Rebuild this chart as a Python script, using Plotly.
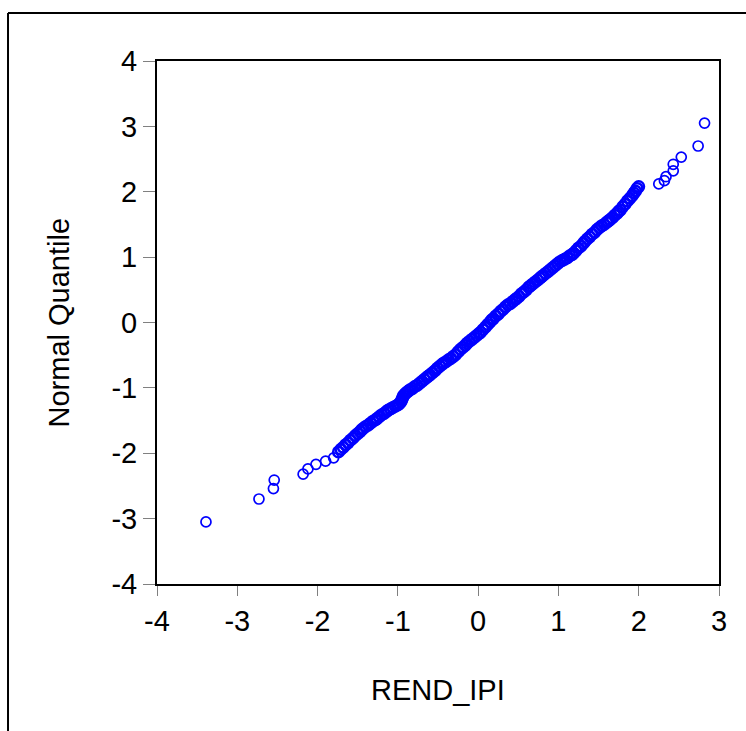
import plotly.graph_objects as go

# Isolated tail observations: sorted REND_IPI values (x) and normal quantiles (y)
tail_rend_ipi = [
    -3.39, -2.73, -2.55, -2.54, -2.18, -2.12, -2.02, -1.90, -1.80,
    2.25, 2.32, 2.34, 2.43, 2.43, 2.53, 2.74, 2.82,
]
tail_normal_quantile = [
    -3.05, -2.70, -2.54, -2.41, -2.32, -2.24, -2.17, -2.12, -2.07,
    2.12, 2.17, 2.23, 2.32, 2.42, 2.53, 2.70, 3.05,
]

# Dense central observations, read along the band
rend_ipi = [
    -1.74, -1.71, -1.68, -1.65, -1.62, -1.59,
    -1.56, -1.53, -1.50, -1.47, -1.45, -1.43,
    -1.40, -1.37, -1.34, -1.31, -1.28, -1.26,
    -1.23, -1.20, -1.17, -1.14, -1.12,
    -1.09, -1.06, -1.03, -1.00, -0.98,
    -0.96, -0.95, -0.94, -0.93, -0.91, -0.89,
    -0.87, -0.85, -0.82, -0.79, -0.76,
    -0.73, -0.70, -0.67, -0.64, -0.62, -0.60,
    -0.57, -0.54, -0.51, -0.48, -0.45, -0.43,
    -0.40, -0.37, -0.34, -0.31,
    -0.28, -0.25, -0.22, -0.19, -0.16, -0.14,
    -0.11, -0.08, -0.05, -0.02, 0.01, 0.03,
    0.06, 0.09, 0.12, 0.15, 0.17, 0.19,
    0.22, 0.25, 0.28, 0.31, 0.34,
    0.37, 0.40, 0.43, 0.46, 0.48,
    0.51, 0.54, 0.57, 0.60, 0.63, 0.65,
    0.68, 0.71, 0.74, 0.77, 0.79, 0.81,
    0.84, 0.87, 0.90, 0.93, 0.96, 0.99, 1.02,
    1.05, 1.08, 1.11, 1.14, 1.17, 1.19,
    1.22, 1.25, 1.28, 1.31, 1.33,
    1.36, 1.39, 1.42, 1.45, 1.48,
    1.51, 1.54, 1.57, 1.60, 1.62, 1.64,
    1.67, 1.70, 1.73, 1.75, 1.77,
    1.80, 1.83, 1.86, 1.89,
    1.92, 1.94, 1.96, 1.98, 2.00,
]
normal_quantile = [
    -1.98, -1.94, -1.91, -1.87, -1.84, -1.80,
    -1.77, -1.73, -1.70, -1.67, -1.64, -1.62,
    -1.59, -1.57, -1.54, -1.51, -1.49, -1.47,
    -1.44, -1.41, -1.39, -1.36, -1.34,
    -1.32, -1.30, -1.28, -1.26, -1.24,
    -1.21, -1.18, -1.15, -1.12, -1.09, -1.07,
    -1.05, -1.03, -1.01, -0.98, -0.96,
    -0.93, -0.90, -0.87, -0.84, -0.82, -0.80,
    -0.77, -0.74, -0.70, -0.67, -0.64, -0.62,
    -0.60, -0.57, -0.55, -0.52,
    -0.49, -0.45, -0.41, -0.38, -0.35, -0.32,
    -0.29, -0.26, -0.23, -0.20, -0.17, -0.15,
    -0.11, -0.07, -0.03, 0.01, 0.04, 0.06,
    0.10, 0.13, 0.17, 0.20, 0.24,
    0.27, 0.29, 0.32, 0.35, 0.37,
    0.40, 0.44, 0.47, 0.50, 0.54, 0.56,
    0.59, 0.62, 0.65, 0.68, 0.70, 0.72,
    0.75, 0.78, 0.81, 0.84, 0.87, 0.90, 0.93,
    0.95, 0.97, 0.99, 1.02, 1.04, 1.06,
    1.10, 1.14, 1.17, 1.21, 1.24,
    1.28, 1.31, 1.35, 1.38, 1.42,
    1.45, 1.48, 1.50, 1.53, 1.55, 1.57,
    1.60, 1.64, 1.67, 1.70, 1.72,
    1.77, 1.81, 1.86, 1.90,
    1.94, 1.98, 2.01, 2.05, 2.08,
]

x_ticks = [-4, -3, -2, -1, 0, 1, 2, 3]
y_ticks = [-4, -3, -2, -1, 0, 1, 2, 3, 4]
x_tick_labels = ["-4", "-3", "-2", "-1", "0", "1", "2", "3"]
y_tick_labels = ["-4", "-3", "-2", "-1", "0", "1", "2", "3", "4"]

FONT = "Liberation Sans, Arial, sans-serif"
BLUE = "#0000FF"

fig = go.Figure()
fig.add_trace(go.Scatter(
    x=rend_ipi, y=normal_quantile, mode="markers",
    marker=dict(symbol="circle-open", size=10.5, color=BLUE,
                line=dict(width=2.6, color=BLUE)),
    showlegend=False, cliponaxis=False,
))
fig.add_trace(go.Scatter(
    x=tail_rend_ipi, y=tail_normal_quantile, mode="markers",
    marker=dict(symbol="circle-open", size=10, color=BLUE,
                line=dict(width=1.7, color=BLUE)),
    showlegend=False, cliponaxis=False,
))

axis_common = dict(
    showline=True, mirror=True, linecolor="black", linewidth=2,
    showgrid=False, zeroline=False,
    ticks="outside", tickcolor="#808080", tickwidth=1,
    tickfont=dict(family=FONT, size=29, color="black"),
)

fig.update_xaxes(range=[-4, 3], tickvals=x_ticks, ticktext=x_tick_labels,
                 ticklen=10, **axis_common)
fig.update_yaxes(range=[-4, 4], tickvals=y_ticks, ticktext=y_tick_labels,
                 ticklen=12, **axis_common)

fig.update_layout(
    width=746, height=731,
    margin=dict(l=157, r=27, t=61, b=147, autoexpand=False),
    plot_bgcolor="white", paper_bgcolor="white",
    font=dict(family=FONT, size=29, color="black"),
    annotations=[
        dict(text="REND_IPI", xref="paper", yref="paper", x=0.5, y=-0.2027,
             xanchor="center", yanchor="middle", showarrow=False,
             font=dict(family=FONT, size=29, color="black")),
        dict(text="Normal Quantile", xref="paper", yref="paper", x=-0.1744, y=0.5,
             xanchor="center", yanchor="middle", textangle=-90, showarrow=False,
             font=dict(family=FONT, size=29, color="black")),
    ],
    shapes=[
        dict(type="line", xref="paper", yref="paper", x0=-0.2651, x1=1.2,
             y0=1.0918, y1=1.0918, line=dict(color="black", width=2)),
        dict(type="line", xref="paper", yref="paper", x0=-0.2651, x1=-0.2651,
             y0=1.0918, y1=-0.4, line=dict(color="black", width=2)),
    ],
)

fig.write_html("out.html")
